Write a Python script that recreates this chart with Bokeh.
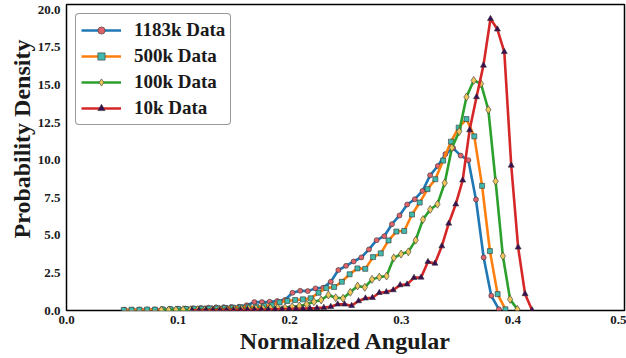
import math
from bokeh.plotting import figure
from bokeh.models import (Range1d, FixedTicker, NumeralTickFormatter, Legend,
                          LegendItem, Title)
from bokeh.embed import file_html
from bokeh.resources import INLINE

# ---------------- data ----------------
labels = ["1183k Data", "500k Data", "100k Data", "10k Data"]

x_1183k = [0.0518, 0.0587, 0.0655, 0.0724, 0.0792, 0.0861, 0.0929, 0.0998, 0.1066, 0.1135,
           0.1203, 0.1272, 0.1340, 0.1409, 0.1477, 0.1546, 0.1614, 0.1683, 0.1751, 0.1820,
           0.1888, 0.1957, 0.2025, 0.2094, 0.2162, 0.2231, 0.2299, 0.2368, 0.2436, 0.2505,
           0.2573, 0.2642, 0.2710, 0.2779, 0.2847, 0.2916, 0.2984, 0.3053, 0.3121, 0.3190,
           0.3258, 0.3327, 0.3395, 0.3464, 0.3532, 0.3601, 0.3669, 0.3738, 0.3806, 0.3875]
y_1183k = [0.05, 0.05, 0.06, 0.07, 0.07, 0.09, 0.10, 0.12, 0.13, 0.15,
           0.17, 0.19, 0.21, 0.22, 0.24, 0.25, 0.35, 0.56, 0.56, 0.58,
           0.63, 0.70, 1.18, 1.31, 1.29, 1.47, 1.51, 1.91, 2.69, 2.97,
           3.26, 3.53, 4.06, 4.68, 4.94, 5.74, 6.32, 7.05, 7.40, 7.95,
           8.99, 9.61, 10.40, 10.80, 10.30, 10.00, 7.38, 3.53, 0.98, 0.08]

x_500k = [0.0513, 0.0583, 0.0653, 0.0722, 0.0792, 0.0862, 0.0932, 0.1002, 0.1071, 0.1141,
          0.1211, 0.1281, 0.1351, 0.1420, 0.1490, 0.1560, 0.1630, 0.1700, 0.1769, 0.1839,
          0.1909, 0.1979, 0.2049, 0.2118, 0.2188, 0.2258, 0.2328, 0.2398, 0.2467, 0.2537,
          0.2607, 0.2677, 0.2747, 0.2816, 0.2886, 0.2956, 0.3026, 0.3096, 0.3165, 0.3235,
          0.3305, 0.3375, 0.3445, 0.3514, 0.3584, 0.3654, 0.3724, 0.3794, 0.3863, 0.3933]
y_500k = [0.04, 0.05, 0.05, 0.06, 0.06, 0.07, 0.08, 0.09, 0.10, 0.11,
          0.12, 0.14, 0.15, 0.17, 0.19, 0.22, 0.25, 0.25, 0.30, 0.35,
          0.54, 0.63, 0.70, 0.74, 0.81, 1.18, 1.49, 1.56, 1.91, 2.41,
          2.80, 2.77, 3.55, 3.80, 4.66, 5.25, 5.29, 6.38, 7.18, 8.07,
          8.73, 9.97, 11.23, 12.16, 12.73, 11.58, 8.29, 3.95, 1.09, 0.08]

x_100k = [0.0850, 0.0915, 0.0980, 0.1045, 0.1110, 0.1176, 0.1241, 0.1306, 0.1371, 0.1436,
          0.1501, 0.1566, 0.1631, 0.1696, 0.1761, 0.1827, 0.1892, 0.1957, 0.2022, 0.2087,
          0.2152, 0.2217, 0.2282, 0.2347, 0.2412, 0.2478, 0.2543, 0.2608, 0.2673, 0.2738,
          0.2803, 0.2868, 0.2933, 0.2998, 0.3063, 0.3129, 0.3194, 0.3259, 0.3324, 0.3389,
          0.3454, 0.3519, 0.3584, 0.3649, 0.3714, 0.3780, 0.3845, 0.3910, 0.3975, 0.4040]
y_100k = [0.03, 0.04, 0.04, 0.05, 0.05, 0.06, 0.07, 0.07, 0.08, 0.09,
          0.10, 0.11, 0.12, 0.13, 0.14, 0.16, 0.18, 0.19, 0.25, 0.30,
          0.41, 0.58, 0.70, 1.03, 0.85, 0.81, 1.21, 1.63, 1.54, 2.07,
          2.22, 2.29, 3.50, 3.75, 3.90, 4.68, 6.05, 6.72, 7.07, 8.48,
          10.83, 11.90, 14.20, 15.30, 15.08, 13.35, 8.60, 3.62, 0.74, 0.08]

x_10k = [0.1124, 0.1186, 0.1248, 0.1311, 0.1373, 0.1435, 0.1497, 0.1559, 0.1622, 0.1684,
         0.1746, 0.1808, 0.1870, 0.1933, 0.1995, 0.2057, 0.2119, 0.2181, 0.2244, 0.2306,
         0.2368, 0.2430, 0.2492, 0.2555, 0.2617, 0.2679, 0.2741, 0.2803, 0.2866, 0.2928,
         0.2990, 0.3052, 0.3114, 0.3177, 0.3239, 0.3301, 0.3363, 0.3425, 0.3488, 0.3550,
         0.3612, 0.3674, 0.3736, 0.3799, 0.3861, 0.3923, 0.3985, 0.4047, 0.4109, 0.4172]
y_10k = [0.02, 0.02, 0.03, 0.03, 0.03, 0.04, 0.04, 0.05, 0.05, 0.06,
         0.07, 0.07, 0.08, 0.09, 0.10, 0.11, 0.12, 0.14, 0.16, 0.19,
         0.25, 0.41, 0.41, 0.32, 0.63, 0.81, 0.85, 1.18, 1.23, 1.36,
         1.69, 1.74, 2.18, 2.20, 3.24, 3.13, 4.28, 5.79, 7.07, 8.66,
         12.00, 14.20, 16.30, 19.40, 18.70, 17.20, 9.65, 4.20, 1.10, 0.02]

x_ticks = [0.0, 0.1, 0.2, 0.3, 0.4, 0.5]
y_ticks = [0.0, 2.5, 5.0, 7.5, 10.0, 12.5, 15.0, 17.5, 20.0]

# ---------------- styling ----------------
FONT = "Liberation Serif"
line_colors = ["#1f77b4", "#ff7f0e", "#2ca02c", "#d62728"]
marker_fill = ["#e0636c", "#42b9ad", "#eec65c", "#3a0d56"]
markers = ["circle", "square", "diamond", "triangle"]
marker_sizes = [5, 5, 8, 6]

p = figure(width=626, height=358, output_backend="svg", toolbar_location=None,
           x_range=Range1d(0, 0.5), y_range=Range1d(0, 20.35),
           min_border_left=66, min_border_right=2, min_border_top=4, min_border_bottom=48)
p.background_fill_color = "white"
p.border_fill_color = "white"
p.outline_line_color = "black"
p.outline_line_width = 1.5
p.xgrid.visible = False
p.ygrid.visible = False

for ax in (p.xaxis, p.yaxis):
    ax.axis_line_color = None
    ax.major_tick_line_color = None
    ax.minor_tick_line_color = None
    ax.major_tick_out = 0
    ax.major_tick_in = 0
    ax.major_label_text_font = FONT
    ax.major_label_text_font_style = "bold"
    ax.major_label_text_font_size = "13px"
    ax.major_label_text_color = "#1a1a1a"

p.xaxis.ticker = FixedTicker(ticks=x_ticks)
p.yaxis.ticker = FixedTicker(ticks=y_ticks)
p.xaxis.formatter = NumeralTickFormatter(format="0.0")
p.yaxis.formatter = NumeralTickFormatter(format="0.0")
p.xaxis.major_label_standoff = 5
p.yaxis.major_label_standoff = 6

p.xaxis.axis_label = "Normalized Angular"
p.xaxis.axis_label_text_font = FONT
p.xaxis.axis_label_text_font_style = "bold"
p.xaxis.axis_label_text_font_size = "24px"
p.xaxis.axis_label_text_color = "#1a1a1a"
p.xaxis.axis_label_standoff = 1

ytitle = Title(text="Probability Density", align="left", offset=72,
               text_font=FONT, text_font_style="bold", text_font_size="24px",
               text_color="#1a1a1a", standoff=0)
p.add_layout(ytitle, "left")

series = [(x_1183k, y_1183k), (x_500k, y_500k), (x_100k, y_100k), (x_10k, y_10k)]
items = []
for i, (xs, ys) in enumerate(series):
    lr = p.line(xs, ys, line_color=line_colors[i], line_width=2.6)
    sr = p.scatter(xs, ys, marker=markers[i], size=marker_sizes[i],
                   fill_color=marker_fill[i], line_color="#333333", line_width=0.6)
    items.append(LegendItem(label=labels[i], renderers=[lr, sr]))

legend = Legend(items=items, location="top_left", margin=9, padding=5,
                spacing=4, glyph_width=40, glyph_height=18, label_height=18,
                label_standoff=13, label_text_font=FONT, label_text_font_style="bold",
                label_text_font_size="19px", label_text_color="#1a1a1a",
                border_line_color="#333333", border_line_width=1.2,
                background_fill_color="white", background_fill_alpha=1.0)
try:
    legend.border_radius = 4
except Exception:
    pass
p.add_layout(legend, "center")

open("out.html", "w").write(file_html(p, INLINE))
